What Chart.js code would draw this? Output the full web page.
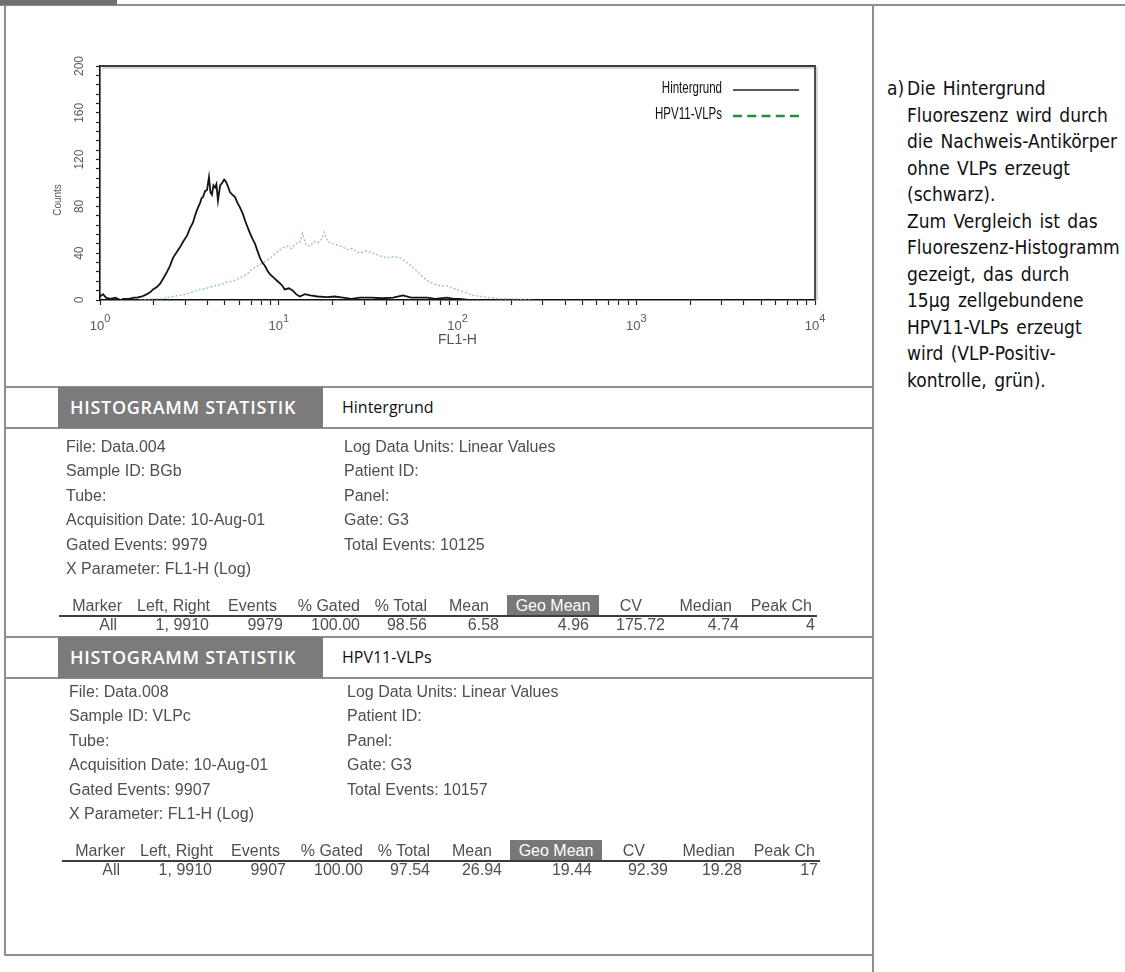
<!DOCTYPE html>
<html lang="de">
<head>
<meta charset="utf-8">
<title>FL1-H Histogramm</title>
<script src="https://cdn.jsdelivr.net/npm/chart.js@4.4.1/dist/chart.umd.min.js"></script>
<style>
  html, body { margin:0; padding:0; background:#fff; }
  body { width:1125px; height:972px; position:relative; overflow:hidden; font-family:"Liberation Sans", Arial, sans-serif; }
  .rule { position:absolute; background:#8e8e8e; }
  #plotBox { position:absolute; left:0; top:0; width:873px; height:386px; }
  .band { position:absolute; left:58px; width:265px; height:41px; background:#7b7b7b; color:#fff;
          font:600 18px "Open Sans", sans-serif; line-height:41px; padding-left:12px; box-sizing:border-box; letter-spacing:0.7px; white-space:nowrap; }
  .bandName { position:absolute; left:342px; height:41px; font:16px "Open Sans", sans-serif; color:#111; line-height:41px; }
  .st { position:absolute; font-size:16px; color:#4f4f4f; white-space:nowrap; line-height:20px; filter:blur(0.35px); }
  .num { text-align:right; width:200px; }
  .geo { position:absolute; width:92px; height:22px; background:#787878; color:#fff; font-size:16px; text-align:center; line-height:22px; }
  .uline { position:absolute; height:2px; background:#3c3c3c; filter:blur(0.3px); }
  .note { position:absolute; left:887px; top:75px; font:19px "DejaVu Sans Condensed", "Liberation Sans Narrow", sans-serif; line-height:26.5px; color:#111; white-space:nowrap; word-spacing:2px; }
</style>
</head>
<body>

<!-- page frame -->
<div class="rule" style="left:0;top:4px;width:1125px;height:2px;"></div>
<div class="rule" style="left:0;top:0;width:117px;height:5px;background:#6f6f6f;"></div>
<div class="rule" style="left:4px;top:5px;width:2px;height:951px;"></div>
<div class="rule" style="left:4px;top:954px;width:870px;height:2px;"></div>
<div class="rule" style="left:872px;top:5px;width:2px;height:967px;"></div>

<div id="plotBox"><canvas id="histo"></canvas></div>

<div id="stats"></div>

<div class="note">
  <span style="position:absolute;left:0;top:0;">a)</span>
  <div style="margin-left:20px;">Die Hintergrund<br>Fluoreszenz wird durch<br>die Nachweis-Antikörper<br>ohne VLPs erzeugt<br>(schwarz).<br>Zum Vergleich ist das<br>Fluoreszenz-Histogramm<br>gezeigt, das durch<br>15µg zellgebundene<br>HPV11-VLPs erzeugt<br>wird (VLP-Positiv-<br>kontrolle, grün).</div>
</div>

<script>
// ---- histogram data: FL1-H (log channel value) and event counts ----
const hintergrundFL1 = [1.00, 1.04, 1.08, 1.14, 1.22, 1.30, 1.35, 1.45, 1.55, 1.61, 1.72, 1.83, 1.92, 1.98, 2.08,
  2.17, 2.27, 2.37, 2.46, 2.56, 2.66, 2.80, 2.92, 3.07, 3.18, 3.31, 3.40, 3.49, 3.56, 3.63, 3.70, 3.77, 3.87,
  3.97, 4.07, 4.15, 4.23, 4.31, 4.40, 4.48, 4.57, 4.70, 4.82, 4.95, 5.07, 5.20, 5.34, 5.50, 5.69, 5.88, 6.07,
  6.28, 6.48, 6.70, 6.91, 7.14, 7.37, 7.60, 7.85, 8.10, 8.38, 8.65, 8.93, 9.23, 9.53, 9.85, 10.2, 10.5, 10.8,
  11.4, 12.0, 12.5, 13.1, 14.0, 15.0, 16.5, 18.6, 20.5, 22.9, 25.5, 28.5, 33.0, 38.0, 43.6, 49.6, 55.0, 62.0,
  67.5, 75.0, 87.3, 95.0, 103, 115, 130];
const hintergrundCounts = [3, 5, 2, 1, 2, 0, 1, 1, 2, 2, 3, 5, 7, 9, 11,
  14, 19, 24, 29, 36, 40, 45, 50, 55, 61, 66, 72, 77, 80, 83, 87, 88, 93,
  94, 105, 92, 90, 98, 96, 99, 85, 98, 100, 103, 101, 97, 92, 90, 88, 83, 79,
  74, 68, 62, 57, 52, 48, 42, 36, 32, 29, 25, 22, 20, 18, 16, 14, 12, 9,
  10, 8, 5, 3, 5, 4, 3, 2.5, 3, 2, 1, 2, 2, 1.5, 2, 4, 2, 2,
  2, 1, 2, 1, 1, 0, 0];

const vlpFL1 = [1.67, 1.85, 2.00, 2.17, 2.35, 2.55, 2.80, 3.05, 3.30, 3.63, 3.95, 4.30, 4.69, 5.10, 5.54,
  6.05, 6.63, 7.05, 7.55, 8.05, 8.56, 9.15, 9.77, 10.4, 11.1, 11.8, 12.4, 13.1, 13.6, 14.2, 15.0, 15.8, 16.6,
  17.4, 18.0, 18.8, 20.1, 21.5, 23.0, 24.0, 25.8, 27.5, 28.5, 30.5, 33.6, 36.5, 40.2, 43.5, 47.7, 51.0, 54.3,
  58.0, 61.8, 67.0, 73.0, 80.0, 87.3, 95.0, 103, 112, 122, 135, 151, 170, 196, 230, 263];
const vlpCounts = [0, 0.5, 1, 1, 2, 3, 4, 5, 7, 9, 10, 12, 13, 15, 16,
  19, 22, 26, 29, 31, 34, 37, 41, 44, 46, 44, 48, 49, 57, 47, 46, 50, 49,
  52, 58, 50, 48, 47, 45, 43, 44, 41, 40, 42, 40, 38, 36, 37, 36, 33, 30,
  26, 22, 17, 14, 12, 12, 10, 8, 6, 4, 3, 2, 1, 1, 0.5, 0];

const seriesNames = ['Hintergrund', 'HPV11-VLPs'];

// ---- axis ticks ----
const countTicks = [0, 40, 80, 120, 160, 200];
const decadeTicks = [1, 10, 100, 1000, 10000];
const decadeExponents = ['0', '1', '2', '3', '4'];

// ---- statistics tables ----
const infoHintergrundLeft = ['File: Data.004', 'Sample ID: BGb', 'Tube:', 'Acquisition Date: 10-Aug-01', 'Gated Events: 9979', 'X Parameter: FL1-H (Log)'];
const infoHintergrundRight = ['Log Data Units: Linear Values', 'Patient ID:', 'Panel:', 'Gate: G3', 'Total Events: 10125'];
const infoVlpLeft = ['File: Data.008', 'Sample ID: VLPc', 'Tube:', 'Acquisition Date: 10-Aug-01', 'Gated Events: 9907', 'X Parameter: FL1-H (Log)'];
const infoVlpRight = ['Log Data Units: Linear Values', 'Patient ID:', 'Panel:', 'Gate: G3', 'Total Events: 10157'];
const statHeaders = ['Marker', 'Left, Right', 'Events', '% Gated', '% Total', 'Mean', 'Geo Mean', 'CV', 'Median', 'Peak Ch'];
const statsHintergrund = ['All', '1, 9910', '9979', '100.00', '98.56', '6.58', '4.96', '175.72', '4.74', '4'];
const statsVlp = ['All', '1, 9910', '9907', '100.00', '97.54', '26.94', '19.44', '92.39', '19.28', '17'];

// column right edges for the statistics rows
const headRight = [122, 210, 277, 360, 427, 489, 0, 642, 732, 812];
const valueRight = [117, 209, 283, 360, 427, 499, 589, 665, 739, 815];

function el(parent, cls, text, css) {
  const d = document.createElement('div');
  d.className = cls;
  d.textContent = text;
  Object.assign(d.style, css);
  parent.appendChild(d);
  return d;
}

function buildBlock(host, bandTop, textTop, dx, title, left, right, values) {
  el(host, 'rule', '', {left: '5px', top: (bandTop - 1) + 'px', width: '868px', height: '2px'});
  el(host, 'rule', '', {left: '5px', top: (bandTop + 40) + 'px', width: '868px', height: '2px'});
  el(host, 'band', 'HISTOGRAMM STATISTIK', {top: bandTop + 'px'});
  el(host, 'bandName', title, {top: bandTop + 'px'});
  const pitch = 24.4;
  left.forEach((t, i) => el(host, 'st', t, {left: (66 + dx) + 'px', top: (textTop + i * pitch - 10) + 'px'}));
  right.forEach((t, i) => el(host, 'st', t, {left: (344 + dx) + 'px', top: (textTop + i * pitch - 10) + 'px'}));
  const headY = textTop + 159, lineY = textTop + 168, valY = textTop + 178;
  statHeaders.forEach((t, i) => {
    if (i === 6) {
      el(host, 'geo', t, {left: (507 + dx) + 'px', top: (headY - 11) + 'px'});
    } else {
      el(host, 'st num', t, {left: (headRight[i] + dx - 200) + 'px', top: (headY - 10) + 'px'});
    }
  });
  el(host, 'uline', '', {left: (59 + dx) + 'px', top: lineY + 'px', width: '758px'});
  values.forEach((t, i) => el(host, 'st num', t, {left: (valueRight[i] + dx - 200) + 'px', top: (valY - 10) + 'px'}));
}

const statsHost = document.getElementById('stats');
buildBlock(statsHost, 387, 447, 0, seriesNames[0], infoHintergrundLeft, infoHintergrundRight, statsHintergrund);
buildBlock(statsHost, 637, 692, 3, seriesNames[1], infoVlpLeft, infoVlpRight, statsVlp);

// ---- histogram plot ----
const yTickPositions = [];
for (let v = 0; v <= 200; v += 8) yTickPositions.push(v);
const xTickPositions = [];
decadeTicks.slice(0, -1).forEach(d => { for (let m = 1; m <= 9; m++) xTickPositions.push(m * d); });
xTickPositions.push(decadeTicks[decadeTicks.length - 1]);

const axisFont = '"Liberation Sans", Arial, sans-serif';

const decorPlugin = {
  id: 'decor',
  afterDraw(chart) {
    const {ctx, chartArea: a, scales: {x}} = chart;
    ctx.save();
    // upper and right edge of the plot box
    ctx.strokeStyle = 'rgba(0,0,0,0.16)';
    ctx.lineWidth = 2;
    ctx.beginPath();
    ctx.moveTo(a.left + 2, a.top + 2); ctx.lineTo(a.right + 2, a.top + 2); ctx.lineTo(a.right + 2, a.bottom);
    ctx.stroke();
    ctx.strokeStyle = '#3b3b3b';
    ctx.lineWidth = 1.8;
    ctx.beginPath();
    ctx.moveTo(a.left, a.top); ctx.lineTo(a.right, a.top); ctx.lineTo(a.right, a.bottom);
    ctx.stroke();

    // y axis caption
    ctx.save();
    ctx.translate(a.left - 42, 200);
    ctx.rotate(-Math.PI / 2);
    ctx.font = '10px ' + axisFont;
    ctx.fillStyle = '#555';
    ctx.textAlign = 'center';
    ctx.textBaseline = 'middle';
    ctx.fillText('Counts', 0, 0);
    ctx.restore();

    // decade labels 10^n
    ctx.fillStyle = '#5a5a5a';
    ctx.textBaseline = 'alphabetic';
    ctx.textAlign = 'left';
    decadeTicks.forEach((v, i) => {
      const px = x.getPixelForValue(v);
      ctx.font = '13px ' + axisFont;
      const wBase = ctx.measureText('10').width;
      ctx.font = '11px ' + axisFont;
      const wExp = ctx.measureText(decadeExponents[i]).width;
      const start = px - (wBase + wExp) / 2;
      ctx.font = '13px ' + axisFont;
      ctx.fillText('10', start, a.bottom + 30);
      ctx.font = '11px ' + axisFont;
      ctx.fillText(decadeExponents[i], start + wBase, a.bottom + 22);
    });

    // legend: name on the left (narrow lettering), line sample on the right
    const rows = [a.top + 23, a.top + 49];
    chart.data.datasets.forEach((ds, i) => {
      const y = rows[i];
      ctx.save();
      ctx.translate(a.right - 93, y);
      ctx.scale(0.72, 1);
      ctx.font = '16px ' + axisFont;
      ctx.fillStyle = '#111';
      ctx.textAlign = 'right';
      ctx.textBaseline = 'middle';
      ctx.fillText(ds.label, 0, 0);
      ctx.restore();
      ctx.beginPath();
      ctx.moveTo(a.right - 82, y + 1);
      ctx.lineTo(a.right - 16, y + 1);
      if (i === 0) {
        ctx.setLineDash([]);
        ctx.strokeStyle = '#222';
        ctx.lineWidth = 1.5;
      } else {
        ctx.setLineDash([9, 5.25]);
        ctx.strokeStyle = '#1f8e3d';
        ctx.lineWidth = 2.5;
      }
      ctx.stroke();
    });
    ctx.restore();
  }
};

new Chart(document.getElementById('histo'), {
  type: 'line',
  data: {
    datasets: [
      {
        label: seriesNames[0],
        data: hintergrundFL1.map((v, i) => ({x: v, y: hintergrundCounts[i]})),
        borderColor: '#141414',
        borderWidth: 1.8,
        pointRadius: 0,
        tension: 0
      },
      {
        label: seriesNames[1],
        data: vlpFL1.map((v, i) => ({x: v, y: vlpCounts[i]})),
        borderColor: 'rgba(110,185,110,0.75)',
        borderWidth: 1.3,
        borderDash: [2, 2],
        pointRadius: 0,
        tension: 0
      }
    ]
  },
  options: {
    responsive: true,
    maintainAspectRatio: false,
    devicePixelRatio: 1,
    animation: false,
    layout: {padding: {left: 0, top: 66, right: 58, bottom: 0}},
    plugins: {legend: {display: false}, tooltip: {enabled: false}},
    scales: {
      x: {
        type: 'logarithmic',
        min: 1,
        max: 10000,
        afterFit(s) { s.height = 86; },
        afterBuildTicks(s) { s.ticks = xTickPositions.map(v => ({value: v})); },
        ticks: {display: false, autoSkip: false},
        grid: {drawOnChartArea: false, drawTicks: true, tickLength: 5, tickColor: '#222', tickWidth: 1.2},
        border: {display: true, color: '#111', width: 1.6},
        title: {display: true, text: 'FL1-H', color: '#555', font: {size: 14, family: axisFont}, padding: {top: 0, bottom: 37}}
      },
      y: {
        min: 0,
        max: 200,
        afterFit(s) { s.width = 100; },
        afterBuildTicks(s) { s.ticks = yTickPositions.map(v => ({value: v})); },
        ticks: {
          autoSkip: false, minRotation: 90, maxRotation: 90, crossAlign: 'center', padding: 6,
          color: '#5a5a5a', font: {size: 12, family: axisFont},
          callback: v => countTicks.includes(v) ? String(v) : ''
        },
        grid: {drawOnChartArea: false, drawTicks: true, tickLength: 4, tickColor: '#222', tickWidth: 1.2},
        border: {display: true, color: '#111', width: 1.6},
        title: {display: false}
      }
    }
  },
  plugins: [decorPlugin]
});
</script>
</body>
</html>
